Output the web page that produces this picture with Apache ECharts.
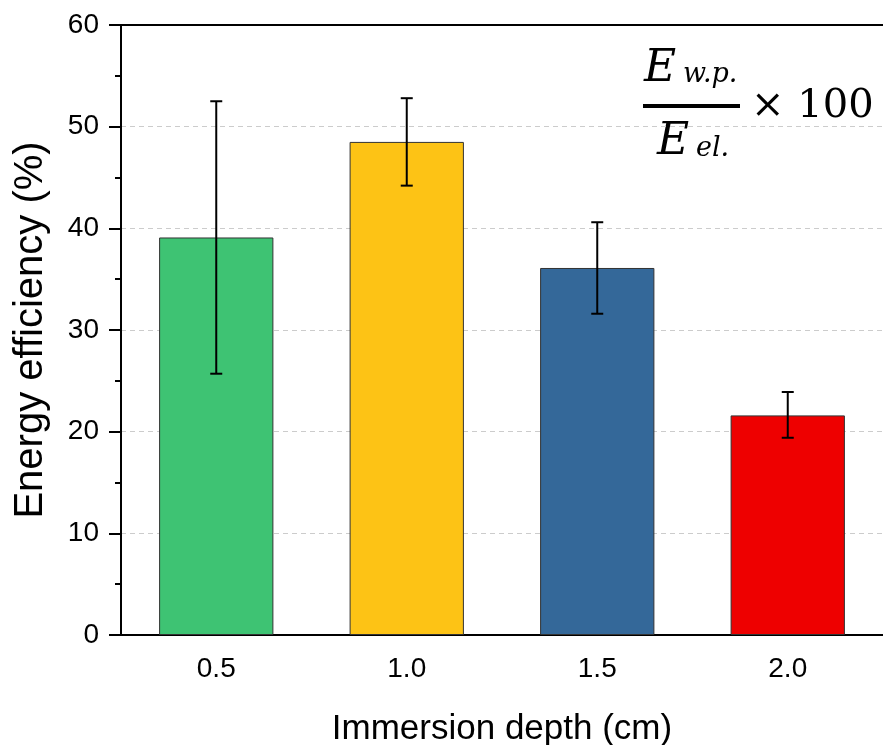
<!DOCTYPE html>
<html><head><meta charset="utf-8">
<script src="https://cdn.jsdelivr.net/npm/echarts@6/dist/echarts.min.js"></script>
<style>html,body{margin:0;padding:0;background:#fff}#c{width:883px;height:745px}</style>
</head><body><div id="c"></div>
<script>
const categories = ['0.5', '1.0', '1.5', '2.0'];
const values = [39.1, 48.5, 36.1, 21.6];
const errLow = [25.7, 44.2, 31.6, 19.4];
const errHigh = [52.5, 52.8, 40.6, 23.9];
const barColors = ['#3EC373', '#FDC315', '#346899', '#EE0000'];
const yTicks = [0, 10, 20, 30, 40, 50, 60];

const chart = echarts.init(document.getElementById('c'));
const font = 'Liberation Sans, Arial, sans-serif';
const serif = 'DejaVu Serif, Liberation Serif, serif';
chart.setOption({
  animation: false,
  grid: {left: 121, right: 0, top: 25, bottom: 110, containLabel: false, outerBoundsMode: 'none'},
  xAxis: [{
    type: 'category', data: categories,
    axisLine: {lineStyle: {color: '#000', width: 2}},
    axisTick: {alignWithLabel: true, length: 12, lineStyle: {color: '#000', width: 2}},
    axisLabel: {color: '#000', fontSize: 28, fontFamily: font, margin: 20},
    name: 'Immersion depth (cm)', nameLocation: 'middle', nameGap: 77,
    nameTextStyle: {color: '#000', fontSize: 35, fontFamily: font}
  }, {
    type: 'category', data: categories, position: 'top',
    axisLine: {lineStyle: {color: '#000', width: 2}},
    axisTick: {show: false}, axisLabel: {show: false}
  }],
  yAxis: {
    type: 'value', min: yTicks[0], max: yTicks[yTicks.length - 1], interval: 10,
    axisLine: {show: true, lineStyle: {color: '#000', width: 2}},
    axisTick: {show: true, length: 12, lineStyle: {color: '#000', width: 2}},
    minorTick: {show: true, splitNumber: 2, length: 6, lineStyle: {color: '#000', width: 2}},
    axisLabel: {color: '#000', fontSize: 28, fontFamily: font, margin: 22},
    splitLine: {show: true, lineStyle: {color: '#cccccc', type: [5, 4], width: 1}},
    name: 'Energy efficiency (%)', nameLocation: 'middle', nameGap: 70,
    nameTextStyle: {color: '#000', fontSize: 40, fontFamily: font}
  },
  series: [{
    type: 'bar', barWidth: '60%',
    data: values.map((v, i) => ({value: v, itemStyle: {color: barColors[i]}})),
    itemStyle: {borderColor: '#333', borderWidth: 1}
  }, {
    type: 'custom',
    data: categories.map((c, i) => [i, errLow[i], errHigh[i]]),
    renderItem: function (params, api) {
      const lo = api.coord([api.value(0), api.value(1)]);
      const hi = api.coord([api.value(0), api.value(2)]);
      const hw = 6;
      const st = {stroke: '#000', lineWidth: 2};
      return {type: 'group', children: [
        {type: 'line', shape: {x1: lo[0], y1: lo[1], x2: hi[0], y2: hi[1]}, style: st},
        {type: 'line', shape: {x1: lo[0] - hw, y1: lo[1], x2: lo[0] + hw, y2: lo[1]}, style: st},
        {type: 'line', shape: {x1: hi[0] - hw, y1: hi[1], x2: hi[0] + hw, y2: hi[1]}, style: st}
      ]};
    },
    z: 10
  }],
  graphic: [
    {type: 'text', x: 644, y: 70, style: {text: 'E', fontFamily: serif, fontStyle: 'italic', fontSize: 44, fill: '#000', verticalAlign: 'middle'}},
    {type: 'text', x: 683, y: 75, style: {text: 'w.p.', fontFamily: serif, fontStyle: 'italic', fontSize: 27, fill: '#000', verticalAlign: 'middle'}},
    {type: 'rect', shape: {x: 643, y: 104, width: 97, height: 4}, style: {fill: '#000'}},
    {type: 'text', x: 657, y: 143, style: {text: 'E', fontFamily: serif, fontStyle: 'italic', fontSize: 44, fill: '#000', verticalAlign: 'middle'}},
    {type: 'text', x: 696, y: 149, style: {text: 'el.', fontFamily: serif, fontStyle: 'italic', fontSize: 27, fill: '#000', verticalAlign: 'middle'}},
    {type: 'text', x: 751, y: 107, style: {text: '\u00d7 100', fontFamily: serif, fontSize: 40, fill: '#000', verticalAlign: 'middle'}}
  ]
});
</script>
</body></html>
